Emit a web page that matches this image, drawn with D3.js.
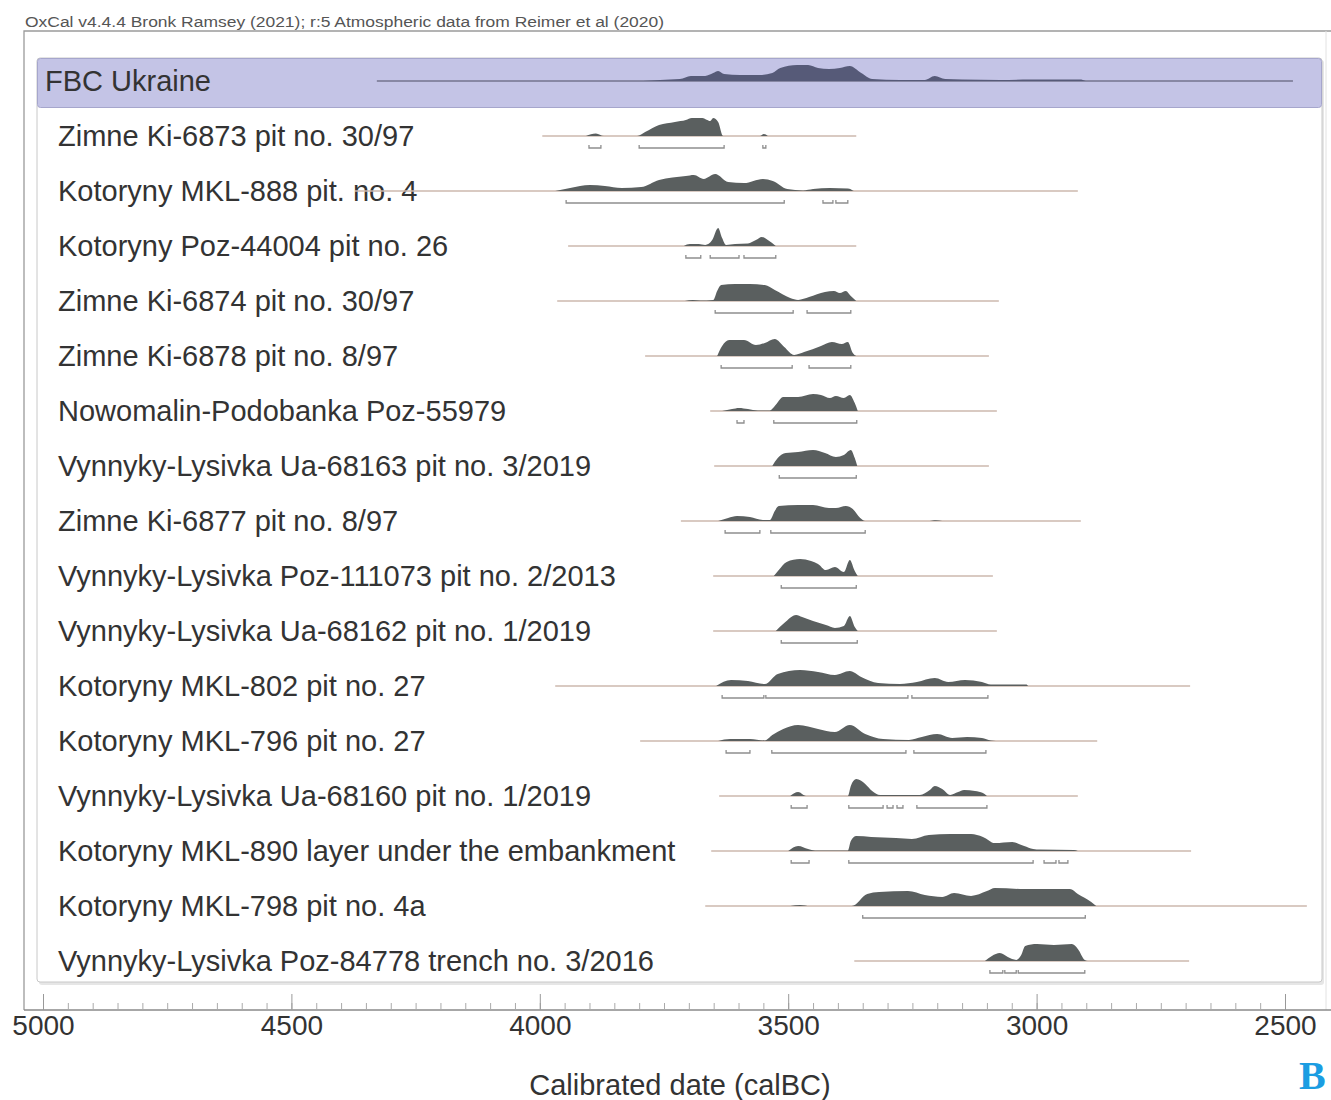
<!DOCTYPE html>
<html>
<head>
<meta charset="utf-8">
<script src="https://cdn.jsdelivr.net/npm/d3@7"></script>
<style>
body { margin: 0; background: #fff; }
svg { display: block; }
text { font-family: "Liberation Sans", Arial, Helvetica, sans-serif; }
</style>
</head>
<body>
<svg id="chart" width="1331" height="1100"></svg>
<script>
// rows, top to bottom (first one is the summary group)
const labels = [
    "FBC Ukraine",
    "Zimne Ki-6873 pit no. 30/97",
    "Kotoryny MKL-888 pit. no. 4",
    "Kotoryny Poz-44004 pit no. 26",
    "Zimne Ki-6874 pit no. 30/97",
    "Zimne Ki-6878 pit no. 8/97",
    "Nowomalin-Podobanka Poz-55979",
    "Vynnyky-Lysivka Ua-68163 pit no. 3/2019",
    "Zimne Ki-6877 pit no. 8/97",
    "Vynnyky-Lysivka Poz-111073 pit no. 2/2013",
    "Vynnyky-Lysivka Ua-68162 pit no. 1/2019",
    "Kotoryny MKL-802 pit no. 27",
    "Kotoryny MKL-796 pit no. 27",
    "Vynnyky-Lysivka Ua-68160 pit no. 1/2019",
    "Kotoryny MKL-890 layer under the embankment",
    "Kotoryny MKL-798 pit no. 4a",
    "Vynnyky-Lysivka Poz-84778 trench no. 3/2016"
];

// prior spans (calBC, from -> to)
const priors = [
    [4328, 2484], [3995, 3363], [4372, 2917], [3943, 3363], [3965, 3076],
    [3788, 3096], [3657, 3080], [3649, 3096], [3716, 2911], [3651, 3088],
    [3651, 3080], [3969, 2691], [3798, 2878], [3639, 2917], [3655, 2689],
    [3667, 2456], [3367, 2693]
];

// posterior densities: [calBC, relative probability]
const posteriors = [
    [[3792,0],[3758,0.06],[3718,0.11],[3696,0.28],[3667,0.28],[3651,0.44],[3641,0.56],[3629,0.39],[3597,0.33],[3557,0.33],[3532,0.44],[3516,0.72],[3482,0.89],[3460,0.89],[3440,0.72],[3418,0.67],[3396,0.72],[3376,0.83],[3353,0.44],[3331,0.11],[3275,0.06],[3225,0.06],[3205,0.28],[3184,0.11],[3150,0.08],[3074,0.06],[3013,0.08],[2913,0.08],[2901,0]],
    [[3907,0],[3887,0.14],[3871,0],[3804,0],[3788,0.22],[3760,0.61],[3728,0.78],[3706,0.89],[3694,1],[3673,1],[3663,0.89],[3657,0.83],[3651,1],[3641,0.78],[3631,0],[3557,0],[3549,0.11],[3541,0]],
    [[3969,0],[3939,0.17],[3899,0.33],[3869,0.28],[3835,0.17],[3796,0.22],[3760,0.61],[3706,0.83],[3690,0.89],[3670,0.67],[3647,0.94],[3621,0.5],[3589,0.44],[3551,0.67],[3531,0.56],[3502,0.11],[3470,0.03],[3450,0.11],[3416,0.17],[3380,0.14],[3368,0]],
    [[3710,0],[3698,0.11],[3680,0.11],[3667,0.06],[3653,0.33],[3641,1],[3633,0.44],[3625,0.06],[3607,0.11],[3581,0.14],[3565,0.33],[3553,0.5],[3541,0.33],[3525,0]],
    [[3708,0],[3692,0.06],[3677,0.03],[3651,0.06],[3643,0.56],[3635,0.89],[3607,0.94],[3577,0.94],[3547,0.89],[3527,0.61],[3496,0.17],[3480,0.06],[3458,0.22],[3426,0.5],[3408,0.56],[3396,0.44],[3384,0.56],[3374,0.28],[3363,0]],
    [[3643,0],[3633,0.56],[3619,0.89],[3589,0.89],[3565,0.61],[3547,0.72],[3527,0.94],[3508,0.5],[3488,0.06],[3468,0.22],[3434,0.56],[3412,0.78],[3392,0.67],[3380,0.78],[3370,0.17],[3363,0]],
    [[3633,0],[3613,0.11],[3599,0.17],[3581,0.11],[3561,0.03],[3537,0.03],[3527,0.28],[3510,0.78],[3480,0.78],[3450,0.94],[3434,0.89],[3416,0.72],[3404,0.83],[3388,0.72],[3376,0.89],[3366,0.44],[3360,0]],
    [[3532,0],[3521,0.44],[3505,0.72],[3480,0.78],[3450,0.89],[3426,0.72],[3404,0.5],[3388,0.61],[3374,0.89],[3366,0.44],[3361,0]],
    [[3641,0],[3621,0.17],[3603,0.28],[3577,0.22],[3551,0.06],[3537,0.06],[3527,0.56],[3519,0.83],[3480,0.89],[3450,0.89],[3418,0.72],[3404,0.72],[3384,0.83],[3370,0.67],[3355,0.17],[3345,0],[3215,0],[3203,0.04],[3190,0]],
    [[3529,0],[3519,0.33],[3503,0.78],[3476,0.94],[3454,0.83],[3440,0.67],[3424,0.33],[3406,0.5],[3388,0.22],[3376,0.89],[3366,0.28],[3360,0]],
    [[3525,0],[3508,0.44],[3484,0.89],[3472,0.78],[3450,0.56],[3424,0.33],[3406,0.17],[3388,0.28],[3376,0.83],[3366,0.22],[3360,0]],
    [[3645,0],[3615,0.33],[3581,0.28],[3547,0.11],[3521,0.67],[3476,0.89],[3440,0.78],[3406,0.61],[3376,0.83],[3353,0.5],[3319,0.17],[3275,0.11],[3241,0.22],[3205,0.44],[3178,0.22],[3144,0.33],[3110,0.22],[3092,0.08],[3074,0.08],[3021,0.08],[3017,0]],
    [[3641,0],[3617,0.11],[3577,0.11],[3547,0.03],[3532,0.33],[3510,0.67],[3480,0.89],[3440,0.67],[3406,0.5],[3376,0.89],[3345,0.39],[3309,0.11],[3257,0.06],[3231,0.22],[3200,0.39],[3170,0.17],[3140,0.22],[3110,0.17],[3092,0.03],[3082,0]],
    [[3496,0],[3480,0.22],[3464,0],[3380,0],[3374,0.56],[3363,0.94],[3345,0.67],[3331,0.28],[3315,0.06],[3275,0.06],[3235,0.06],[3215,0.33],[3205,0.56],[3190,0.39],[3174,0.06],[3158,0.22],[3146,0.33],[3124,0.28],[3108,0.17],[3100,0]],
    [[3500,0],[3480,0.28],[3460,0.11],[3446,0.03],[3380,0.03],[3374,0.56],[3363,0.83],[3333,0.78],[3283,0.72],[3251,0.67],[3217,0.89],[3174,0.94],[3132,0.94],[3108,0.78],[3084,0.44],[3049,0.5],[3025,0.28],[3007,0.11],[2993,0.08],[2925,0.06],[2917,0]],
    [[3496,0],[3476,0.06],[3456,0],[3372,0],[3341,0.67],[3317,0.78],[3259,0.83],[3225,0.61],[3190,0.5],[3166,0.72],[3132,0.56],[3100,0.83],[3084,1],[3025,0.94],[2991,0.94],[2933,0.94],[2917,0.67],[2890,0.22],[2880,0]],
    [[3104,0],[3090,0.28],[3074,0.44],[3058,0.22],[3041,0.06],[3031,0.33],[3023,0.83],[2999,0.94],[2965,0.89],[2929,0.94],[2917,0.67],[2903,0.06],[2897,0]]
];

// 95.4% ranges (calBC)
const ranges = [
    [],
    [[3901,3877],[3800,3629],[3551,3545]],
    [[3947,3508],[3430,3410],[3404,3380]],
    [[3706,3676],[3657,3599],[3589,3525]],
    [[3647,3490],[3462,3374]],
    [[3635,3492],[3458,3374]],
    [[3603,3589],[3529,3362]],
    [[3518,3363]],
    [[3627,3557],[3535,3345]],
    [[3514,3363]],
    [[3514,3361]],
    [[3633,3549],[3545,3259],[3251,3098]],
    [[3625,3577],[3533,3263],[3247,3102]],
    [[3494,3462],[3378,3309],[3301,3289],[3281,3269],[3241,3100]],
    [[3494,3458],[3378,3007],[2985,2961],[2955,2937]],
    [[3350,2902]],
    [[3094,3068],[3064,3041],[3037,2903]]
];

const majorTicks = [5000, 4500, 4000, 3500, 3000, 2500];
const minorTicks = d3.range(5000, 2450, -50);

const svg = d3.select("#chart");

const x = d3.scaleLinear().domain([5000, 2500]).range([43, 1285]);
const row = d3.scalePoint().domain(d3.range(labels.length)).range([81, 961]);
const dens = d3.scaleLinear().domain([0, 1]).range([0, 18]);

// header
svg.append("text")
    .attr("x", 25).attr("y", 27)
    .attr("font-size", 14).attr("fill", "#555")
    .attr("textLength", 639).attr("lengthAdjust", "spacingAndGlyphs")
    .text("OxCal v4.4.4 Bronk Ramsey (2021); r:5 Atmospheric data from Reimer et al (2020)");

// outer frame
svg.append("path")
    .attr("d", "M24,1010V31H1331")
    .attr("fill", "none").attr("stroke", "#9a9a9a").attr("stroke-width", 1.3);
svg.append("line")
    .attr("x1", 1326).attr("x2", 1326).attr("y1", 31).attr("y2", 1010)
    .attr("stroke", "#e2e2e2").attr("stroke-width", 1);

// inner panel with a soft shadow
svg.append("rect")
    .attr("x", 39).attr("y", 60).attr("width", 1285).attr("height", 925)
    .attr("fill", "#e6e6e6").attr("rx", 3);
svg.append("rect")
    .attr("x", 37).attr("y", 58).attr("width", 1285).attr("height", 924)
    .attr("fill", "#fff").attr("stroke", "#c8c8c8").attr("rx", 3);

// summary band
svg.append("rect")
    .attr("x", 37.5).attr("y", 58.5).attr("width", 1284).attr("height", 49)
    .attr("fill", "#c4c4e6").attr("stroke", "#a6a6cc").attr("rx", 3);

// labels
svg.append("g").selectAll("text")
    .data(labels)
    .join("text")
    .attr("x", (d, i) => i === 0 ? 45 : 58)
    .attr("y", (d, i) => row(i) + 10)
    .attr("font-size", 29)
    .attr("fill", "#333")
    .text(d => d);

// priors
svg.append("g").selectAll("line")
    .data(priors)
    .join("line")
    .attr("x1", d => x(d[0])).attr("x2", d => x(d[1]))
    .attr("y1", (d, i) => row(i)).attr("y2", (d, i) => row(i))
    .attr("stroke", (d, i) => i === 0 ? "#74748e" : "#cdb8ae")
    .attr("stroke-width", 1.5);

// posteriors
const area = d3.area()
    .x(d => x(d[0]))
    .curve(d3.curveMonotoneX);

svg.append("g").selectAll("path")
    .data(posteriors)
    .join("path")
    .attr("d", (d, i) => area.y0(row(i)).y1(p => row(i) - dens(p[1]))(d))
    .attr("fill", (d, i) => i === 0 ? "#565a78" : "#5a5f5f");

// range brackets
const brackets = svg.append("g")
    .attr("fill", "none").attr("stroke", "#8e8e8e").attr("stroke-width", 1.3);
ranges.forEach((rs, i) => {
    const y = row(i) + 12;
    brackets.selectAll(null)
        .data(rs)
        .join("path")
        .attr("d", r => "M" + x(r[0]) + "," + (y - 3) + "V" + y + "H" + x(r[1]) + "V" + (y - 3));
});

// axis
svg.append("line")
    .attr("x1", 24).attr("x2", 1331).attr("y1", 1010).attr("y2", 1010)
    .attr("stroke", "#8a8a8a").attr("stroke-width", 1.5);

const minorAxis = svg.append("g")
    .attr("transform", "translate(0,1010)")
    .call(d3.axisBottom(x).tickValues(minorTicks).tickSize(-7).tickFormat(""));
minorAxis.select(".domain").remove();
minorAxis.selectAll("line").attr("stroke", "#aaa");

const majorAxis = svg.append("g")
    .attr("transform", "translate(0,1010)")
    .call(d3.axisBottom(x).tickValues(majorTicks).tickSize(-16).tickPadding(5).tickFormat(d3.format("d")));
majorAxis.select(".domain").remove();
majorAxis.selectAll("line").attr("stroke", "#999");
majorAxis.selectAll("text")
    .attr("font-size", 28)
    .style("font-family", "'Liberation Sans', Arial, sans-serif")
    .attr("fill", "#333");

svg.append("text")
    .attr("x", 680).attr("y", 1095)
    .attr("text-anchor", "middle")
    .attr("font-size", 29).attr("fill", "#333")
    .text("Calibrated date (calBC)");

// panel letter
svg.append("text")
    .attr("x", 1299).attr("y", 1089)
    .style("font-family", "'Liberation Serif', 'Times New Roman', serif")
    .attr("font-weight", "bold")
    .attr("font-size", 40).attr("fill", "#1b9de2")
    .text("B");
</script>
</body>
</html>
